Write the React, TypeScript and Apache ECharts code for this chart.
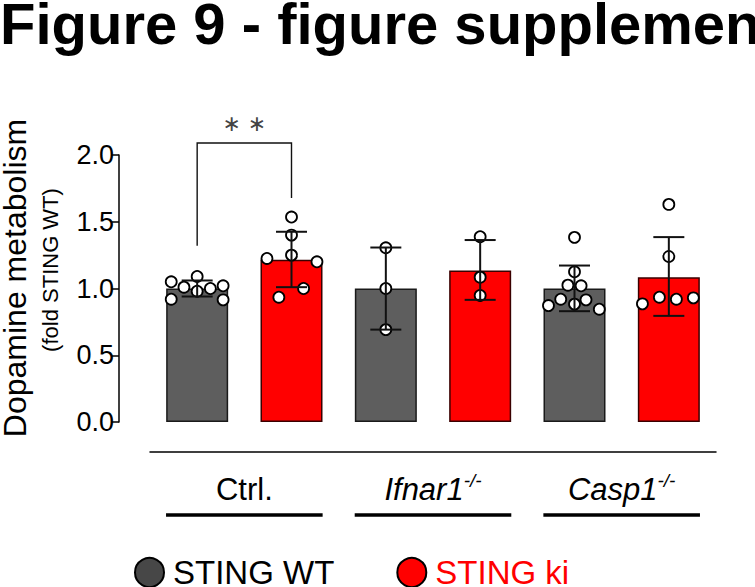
import React, { useEffect, useRef } from "react";
import * as echarts from "echarts";

// ---- data ----
const categories = ["Ctrl. WT", "Ctrl. ki", "Ifnar1 WT", "Ifnar1 ki", "Casp1 WT", "Casp1 ki"];
const barMeans = [1.0, 1.215, 1.0, 1.135, 1.0, 1.085];
const errLow = [0.94, 1.01, 0.692, 0.915, 0.83, 0.795];
const errHigh = [1.06, 1.425, 1.307, 1.363, 1.172, 1.385];

// individual points: [jitter offset (category units), value]
const ptsCtrlWT = [[-0.275, 1.05], [-0.14, 1.01], [0, 1.09], [0, 0.98], [0.14, 1.0], [0.275, 1.02], [-0.275, 0.92], [0.275, 0.915]];
const ptsCtrlKi = [[0, 1.535], [0, 1.4], [0, 1.25], [-0.26, 1.225], [0.27, 1.2], [-0.134, 0.935], [0.128, 1.0]];
const ptsIfnarWT = [[0, 1.305], [0, 1.0], [0, 0.692]];
const ptsIfnarKi = [[0, 1.388], [0, 1.085], [0, 0.948]];
const ptsCaspWT = [[0, 1.383], [0, 1.125], [-0.07, 1.025], [0.07, 1.02], [-0.146, 0.92], [0.122, 0.915], [0, 0.883], [-0.276, 0.872], [0.263, 0.845]];
const ptsCaspKi = [[0, 1.63], [0, 1.24], [-0.28, 0.885], [-0.1, 0.935], [0.08, 0.92], [0.26, 0.93]];
const pointGroups = [ptsCtrlWT, ptsCtrlKi, ptsIfnarWT, ptsIfnarKi, ptsCaspWT, ptsCaspKi];

const groupLabels = ["Ctrl.", "Ifnar1", "Casp1"];
const groupSups = ["", "-/-", "-/-"];
const groupItalic = [false, true, true];
const groupSpans = [[0, 1], [2, 3], [4, 5]];

// significance bracket: [from, to, leftFoot, top, rightFoot]
const bracket = [0, 1, 1.32, 2.09, 1.677];
const bracketLabel = "∗ ∗";
const starLevel = 2.235;

const seriesNames = ["STING WT", "STING ki"];
const yMin = 0;
const yMax = 2;
const yInterval = 0.5;

const FONT = "'Liberation Sans', Arial, Helvetica, sans-serif";
const GRAY = "#5e5e5e";
const RED = "#ff0000";

export default function App() {
  const ref = useRef<HTMLDivElement>(null);
  useEffect(() => {
    if (!ref.current) return;
    const chart = echarts.init(ref.current, undefined, { renderer: "svg" });

    const scatterData: number[][] = [];
    pointGroups.forEach((g, i) => g.forEach((p) => scatterData.push([i + p[0], p[1]])));

    const option: any = {
      animation: false,
      backgroundColor: "#ffffff",
      grid: { left: 150, right: 39, top: 155, bottom: 165, outerBoundsMode: "none", containLabel: false },
      xAxis: [
        {
          type: "category",
          data: categories,
          offset: 30,
          axisLine: { show: true, onZero: false, lineStyle: { color: "#000", width: 1.5 } },
          axisTick: { show: false },
          axisLabel: { show: false },
          splitLine: { show: false },
        },
        { type: "value", min: -0.5, max: 5.5, show: false, axisLine: { onZero: false } },
      ],
      yAxis: {
        type: "value",
        min: yMin,
        max: yMax,
        interval: yInterval,
        offset: 31,
        axisLine: { show: true, onZero: false, lineStyle: { color: "#000", width: 1.5 } },
        axisTick: { show: true, length: 7, lineStyle: { color: "#000", width: 1.5 } },
        axisLabel: {
          fontSize: 27,
          color: "#000",
          fontFamily: FONT,
          margin: 5,
          formatter: (v: number) => v.toFixed(1),
        },
        splitLine: { show: false },
      },
      legend: {
        left: 129,
        top: 551,
        icon: "circle",
        itemWidth: 37,
        itemHeight: 29,
        itemGap: 62,
        textStyle: { fontSize: 33, color: "#000", fontFamily: FONT, lineHeight: 30 },
        data: [
          { name: seriesNames[0], itemStyle: { color: "#474747", borderColor: "#000", borderWidth: 2 } },
          { name: seriesNames[1], itemStyle: { color: RED, borderColor: "#000", borderWidth: 2 }, textStyle: { color: RED } },
        ],
      },
      graphic: [
        {
          type: "text",
          x: 0,
          y: 23,
          style: {
            text: "Figure 9 - figure supplement 1",
            fontSize: 58,
            fontWeight: "bold",
            fontFamily: FONT,
            fill: "#000",
            align: "left",
            verticalAlign: "middle",
          },
        },
        {
          type: "text",
          x: 15,
          y: 278,
          rotation: Math.PI / 2,
          style: {
            text: "Dopamine metabolism",
            fontSize: 32,
            fontFamily: FONT,
            fill: "#000",
            align: "center",
            verticalAlign: "middle",
          },
        },
        {
          type: "text",
          x: 50,
          y: 270,
          rotation: Math.PI / 2,
          style: {
            text: "(fold STING WT)",
            fontSize: 22,
            fontFamily: FONT,
            fill: "#000",
            align: "center",
            verticalAlign: "middle",
          },
        },
      ],
      series: [
        {
          name: seriesNames[0],
          type: "bar",
          xAxisIndex: 0,
          data: barMeans.map((v, i) => (i % 2 === 0 ? v : "-")),
          barWidth: 62,
          barGap: "-100%",
          itemStyle: { color: GRAY, borderColor: "#1a1a1a", borderWidth: 1.5 },
          z: 2,
        },
        {
          name: seriesNames[1],
          type: "bar",
          xAxisIndex: 0,
          data: barMeans.map((v, i) => (i % 2 === 1 ? v : "-")),
          barWidth: 62,
          barGap: "-100%",
          itemStyle: { color: RED, borderColor: "#3a0000", borderWidth: 1.5 },
          z: 2,
        },
        {
          type: "scatter",
          xAxisIndex: 1,
          data: scatterData,
          symbol: "circle",
          symbolSize: 11,
          itemStyle: { color: "#fff", borderColor: "#000", borderWidth: 1.8, opacity: 1 },
          z: 3,
          silent: true,
        },
        {
          type: "custom",
          xAxisIndex: 1,
          data: barMeans.map((_, i) => [i, errLow[i], errHigh[i]]),
          z: 4,
          silent: true,
          renderItem: (params: any, api: any) => {
            const x = api.value(0);
            const lo = api.coord([x, api.value(1)]);
            const hi = api.coord([x, api.value(2)]);
            const hw = 15.5;
            const st = { stroke: "#111", lineWidth: 2 };
            return {
              type: "group",
              children: [
                { type: "line", shape: { x1: lo[0], y1: lo[1], x2: hi[0], y2: hi[1] }, style: st },
                { type: "line", shape: { x1: lo[0] - hw, y1: lo[1], x2: lo[0] + hw, y2: lo[1] }, style: st },
                { type: "line", shape: { x1: hi[0] - hw, y1: hi[1], x2: hi[0] + hw, y2: hi[1] }, style: st },
              ],
            };
          },
        },
        {
          type: "custom",
          xAxisIndex: 1,
          data: [bracket],
          z: 4,
          silent: true,
          renderItem: (params: any, api: any) => {
            const a = api.coord([api.value(0), api.value(2)]);
            const b = api.coord([api.value(0), api.value(3)]);
            const c = api.coord([api.value(1), api.value(3)]);
            const d = api.coord([api.value(1), api.value(4)]);
            const s = api.coord([(api.value(0) + api.value(1)) / 2, starLevel]);
            return {
              type: "group",
              children: [
                {
                  type: "polyline",
                  shape: { points: [a, b, c, d] },
                  style: { stroke: "#111", lineWidth: 1.4, fill: "none" },
                },
                {
                  type: "text",
                  x: s[0],
                  y: s[1],
                  style: {
                    text: bracketLabel,
                    fontSize: 22,
                    fontFamily: "'DejaVu Sans', sans-serif",
                    fill: "#444",
                    align: "center",
                    verticalAlign: "middle",
                  },
                },
              ],
            };
          },
        },
        {
          type: "custom",
          xAxisIndex: 1,
          data: groupSpans.map((s, i) => [s[0], s[1], i]),
          z: 4,
          silent: true,
          renderItem: (params: any, api: any) => {
            const i = api.value(2);
            const p1 = api.coord([api.value(0) - 0.33, 0]);
            const p2 = api.coord([api.value(1) + 0.33, 0]);
            const y0 = p1[1];
            const cx = (p1[0] + p2[0]) / 2;
            const label = groupLabels[i];
            const sup = groupSups[i];
            const italic = groupItalic[i];
            const textEl: any = sup
              ? {
                  type: "text",
                  x: cx,
                  y: y0 + 67,
                  style: {
                    text: `{m|${label}}{s|${sup}}`,
                    align: "center",
                    verticalAlign: "middle",
                    rich: {
                      m: { fontSize: 31, fontFamily: FONT, fontStyle: italic ? "italic" : "normal", fill: "#000", lineHeight: 36 },
                      s: { fontSize: 19, fontFamily: FONT, fontStyle: "italic", fill: "#000", verticalAlign: "top" },
                    },
                  },
                }
              : {
                  type: "text",
                  x: cx,
                  y: y0 + 67,
                  style: {
                    text: label,
                    fontSize: 31,
                    fontFamily: FONT,
                    fontStyle: italic ? "italic" : "normal",
                    fill: "#000",
                    align: "center",
                    verticalAlign: "middle",
                  },
                };
            return {
              type: "group",
              children: [
                textEl,
                {
                  type: "line",
                  shape: { x1: p1[0], y1: y0 + 93, x2: p2[0], y2: y0 + 93 },
                  style: { stroke: "#000", lineWidth: 3.5 },
                },
              ],
            };
          },
        },
      ],
    };
    chart.setOption(option);
    return () => chart.dispose();
  }, []);
  return (
    <div
      ref={ref}
      style={{ position: "absolute", left: 0, top: 0, width: 755, height: 587, overflow: "hidden", background: "#fff" }}
    />
  );
}
